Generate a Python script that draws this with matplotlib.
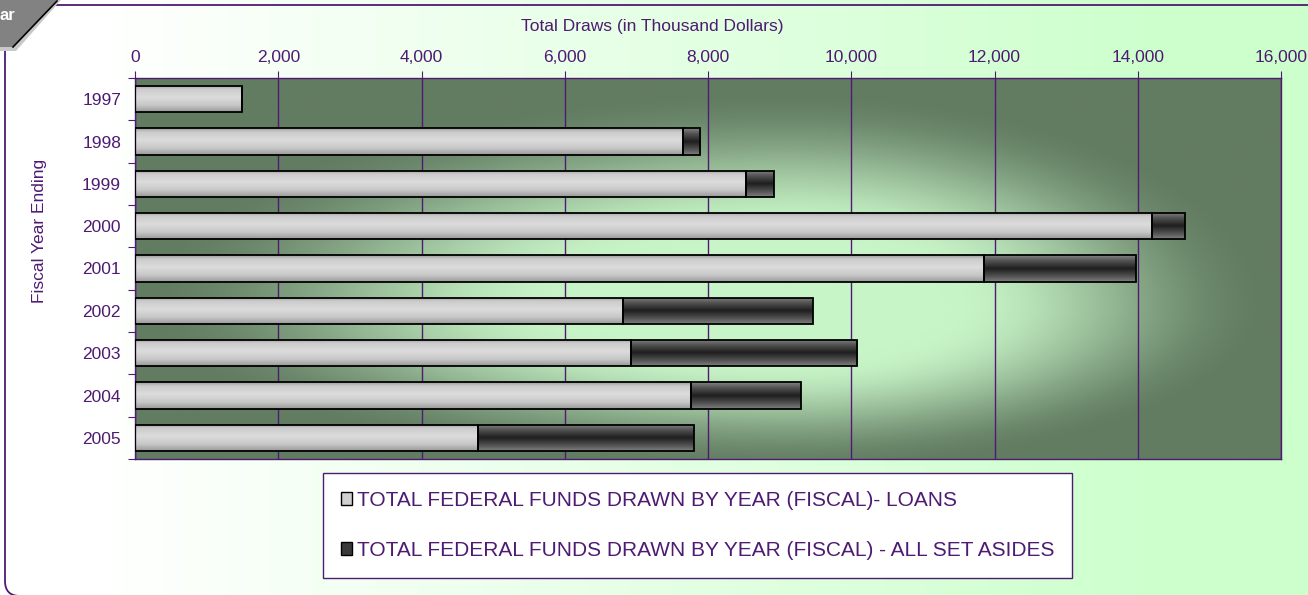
import numpy as np
import matplotlib
matplotlib.use("Agg")
import matplotlib.pyplot as plt
from matplotlib.patches import FancyBboxPatch, Polygon, Patch
from matplotlib.lines import Line2D
from matplotlib.ticker import FuncFormatter
from matplotlib.transforms import IdentityTransform

# data (thousand dollars)
years = ["1997", "1998", "1999", "2000", "2001", "2002", "2003", "2004", "2005"]
loans = [1490, 7650, 8525, 14200, 11850, 6820, 6920, 7765, 4790]
set_asides = [0, 238, 390, 460, 2120, 2650, 3160, 1530, 3010]
x_ticks = list(range(0, 16001, 2000))
labels = ["TOTAL FEDERAL FUNDS DRAWN BY YEAR (FISCAL)- LOANS",
          "TOTAL FEDERAL FUNDS DRAWN BY YEAR (FISCAL) - ALL SET ASIDES"]

purple = "#4e1a72"
W, H = 1308, 595

plt.rcParams["font.family"] = ["Liberation Sans", "DejaVu Sans"]


def main():
    fig = plt.figure(figsize=(W / 100, H / 100), dpi=100)

    # chart area background: white -> pale green left to right
    bg = fig.add_axes([0, 0, 1, 1], zorder=-2)
    fx = np.linspace(0, 1, 600)
    ramp = np.clip((fx * W - 100) / (1180 - 100), 0, 1)
    c0 = np.array([1.0, 1.0, 1.0])
    c1 = np.array([204, 255, 204]) / 255
    img = c0 + (c1 - c0) * ramp[:, None]
    bg.imshow(img[None], extent=[0, 1, 0, 1], aspect="auto")
    bg.set_xlim(0, 1)
    bg.set_ylim(0, 1)
    bg.axis("off")

    # outer rounded frame + grey tab (pixel coords)
    frame = FancyBboxPatch((5, -1), 1330, 591,
                           boxstyle="round,pad=0,rounding_size=15",
                           fill=False, edgecolor=purple, lw=1.3,
                           transform=IdentityTransform())
    fig.add_artist(frame)
    shadow = Polygon([(0, H), (61, H), (16, H - 51), (0, H - 51)], closed=True,
                     facecolor="#c8c8c8", edgecolor="none",
                     transform=IdentityTransform())
    tab = Polygon([(0, H), (57, H), (13, H - 47), (0, H - 47)], closed=True,
                  facecolor="#828282", edgecolor="none",
                  transform=IdentityTransform())
    fig.add_artist(shadow)
    fig.add_artist(tab)
    fig.add_artist(Line2D([57, 13], [H - 1, H - 47], color="black", lw=1.2,
                          transform=IdentityTransform()))
    fig.text(-1 / W, 1 - 16 / H, "ar", color="white", fontsize=12,
             fontweight="bold", ha="left", va="center")

    # plot area
    pos = [135 / W, (H - 459) / H, 1146 / W, 381 / H]

    pbg = fig.add_axes(pos, zorder=0)
    gx = np.linspace(0, 1, 600)
    gy = np.linspace(0, 1, 250)
    X, Y = np.meshgrid(gx, gy)
    xc, yc = 0.57, 0.6
    dx = np.where(X < xc, (X - xc) / 0.62, (X - xc) / 0.46)
    dy = np.where(Y < yc, (Y - yc) / 0.62, (Y - yc) / 0.47)
    t = np.clip((np.hypot(dx, dy) - 0.3) / 0.62, 0, 1)
    t = t * t * (3 - 2 * t)
    light = np.array([200, 245, 200]) / 255
    dark = np.array([98, 124, 98]) / 255
    pimg = light + (dark - light) * t[..., None]
    pbg.imshow(pimg, extent=[0, 1, 0, 1], aspect="auto", origin="upper")
    pbg.set_xlim(0, 1)
    pbg.set_ylim(0, 1)
    pbg.axis("off")

    ax = fig.add_axes(pos, zorder=1)
    ax.patch.set_visible(False)

    ypos = np.arange(len(years))
    h = 0.62
    b1 = ax.barh(ypos, loans, height=h, facecolor="none", edgecolor="black",
                 lw=1.3, zorder=3)
    b2 = ax.barh(ypos, set_asides, left=loans, height=h, facecolor="none",
                 edgecolor="black", lw=1.3, zorder=3)

    # cylinder-like shading inside the bars
    tt = np.linspace(0, 1, 60)
    g_light = np.interp(tt, [0, 0.15, 0.45, 0.75, 1], [0.62, 0.80, 0.86, 0.78, 0.60])
    g_dark = np.interp(tt, [0, 0.2, 0.5, 0.8, 1], [0.52, 0.33, 0.12, 0.33, 0.50])
    for bars, grad in ((b1, g_light), (b2, g_dark)):
        for p in bars.patches:
            x0, y0 = p.get_x(), p.get_y()
            w, hh = p.get_width(), p.get_height()
            if w <= 0:
                continue
            im = ax.imshow(np.tile(grad[:, None], (1, 2)), cmap="gray", vmin=0, vmax=1,
                           extent=[x0, x0 + w, y0 + hh, y0], aspect="auto",
                           origin="upper", zorder=2, interpolation="bilinear")
            im.set_clip_path(p)

    ax.set_xlim(0, 16000)
    ax.set_ylim(len(years) - 0.5, -0.5)

    ax.xaxis.tick_top()
    ax.set_xticks(x_ticks)
    ax.xaxis.set_major_formatter(FuncFormatter(lambda v, p: f"{v:,.0f}"))
    ax.tick_params(axis="x", direction="out", length=5, color=purple,
                   labelcolor=purple, labelsize=12.5, pad=4)
    ax.grid(axis="x", color=purple, lw=1)
    ax.set_axisbelow(True)

    ax.set_yticks(np.arange(len(years) + 1) - 0.5)
    ax.set_yticklabels([])
    ax.set_yticks(ypos, minor=True)
    ax.set_yticklabels(years, minor=True)
    ax.tick_params(axis="y", which="major", direction="out", length=5, color=purple)
    ax.tick_params(axis="y", which="minor", length=0, labelcolor=purple,
                   labelsize=12.5, pad=10)

    for s in ax.spines.values():
        s.set_color(purple)
        s.set_linewidth(1)

    fig.text(652 / W, 1 - 27 / H, "Total Draws (in Thousand Dollars)", color=purple,
             fontsize=12.5, ha="center", va="center")
    fig.text(40 / W, 1 - 231 / H, "Fiscal Year Ending", color=purple, fontsize=12.5,
             rotation=90, ha="center", va="center")

    handles = [Patch(facecolor="#d0d0d0", edgecolor="black"),
               Patch(facecolor="#3a3a3a", edgecolor="black")]
    leg = fig.legend(handles, labels, loc="center",
                     bbox_to_anchor=(697.5 / W, (H - 525.5) / H),
                     frameon=True, fancybox=False, framealpha=1,
                     facecolor="white", edgecolor=purple, fontsize=15,
                     labelcolor=purple, labelspacing=1.5, borderpad=0.85,
                     handlelength=0.55, handleheight=0.55, handletextpad=0.2)
    leg.get_frame().set_linewidth(1)

    fig.savefig("out.png", dpi=100)


if __name__ == "__main__":
    main()
